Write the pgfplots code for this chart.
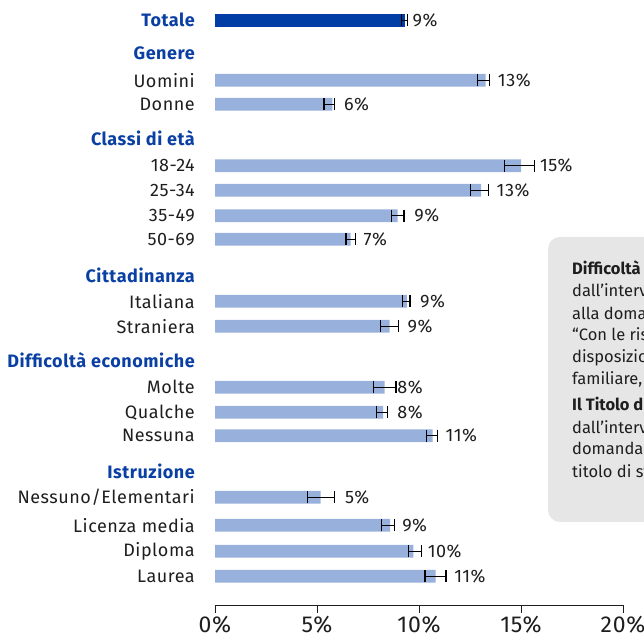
\documentclass[border=0pt]{standalone}
\usepackage{pgfplots}
\pgfplotsset{compat=1.18}
\usepackage{pgfplotstable}
\usepackage{fontspec}
\setmainfont{Fira Sans}
\newfontfamily\lab[LetterSpace=3]{Fira Sans}

\definecolor{hdr}{HTML}{0A3FA3}
\definecolor{dark}{HTML}{003DA5}
\definecolor{light}{HTML}{98B0DC}
\definecolor{boxgrey}{HTML}{E6E6E6}
\definecolor{txt}{HTML}{1E1E1E}

% y = row position, v = value, ep/em = error plus/minus, lx = label x
\pgfplotstableread{
y     v     ep   em   lx    lab
613.7 9.31  0.12 0.16 9.68  9
}\totale

\pgfplotstableread{
y     v     ep   em   lx    lab
553.7 13.26 0.18 0.39 13.86 13
529.7 5.75  0.10 0.41 6.32  6
468.3 15.00 0.65 0.82 15.93 15
443.7 13.04 0.36 0.51 13.80 13
418.3 8.95  0.31 0.31 9.76  9
394.8 6.65  0.25 0.23 7.27  7
332.7 9.41  0.15 0.23 10.05 9
307.7 8.56  0.43 0.46 9.43  9
246.7 8.31  0.56 0.55 8.93  8
221.7 8.24  0.20 0.32 8.93  8
198.3 10.67 0.23 0.30 11.30 11
136.7 5.18  0.68 0.66 6.37  5
108.7 8.58  0.22 0.41 9.17  9
82.7  9.72  0.40 0.25 10.42 10
57.7  10.82 0.50 0.53 11.72 11
}\gruppi

\newcommand{\hd}[1]{\bfseries\color{hdr}#1}

\begin{document}
\begin{tikzpicture}
\fill[boxgrey, rounded corners=12pt] (548pt,112pt) rectangle (720pt,397pt);
\begin{scope}[every node/.style={anchor=base west, inner sep=0pt, text=txt,
    font=\fontsize{16.5}{19}\selectfont}]
\node at (572pt,359pt) {\textbf{Difficoltà economiche}: riferite};
\node at (572pt,337pt) {dall'intervistato in risposta};
\node at (572pt,314pt) {alla domanda};
\node at (572pt,293pt) {“Con le risorse economiche a};
\node at (572pt,271pt) {disposizione del suo nucleo};
\node at (572pt,249pt) {familiare, come arriva a fine mese?”};
\node at (572pt,223pt) {\textbf{Il Titolo di studio}: riferito};
\node at (572pt,200pt) {dall'intervistato in risposta alla};
\node at (572pt,179pt) {domanda sul più alto};
\node at (572pt,157pt) {titolo di studio conseguito};
\end{scope}
\begin{axis}[
  at={(215pt,29pt)}, anchor=south west,
  scale only axis, width=408pt, height=600pt,
  xmin=0, xmax=20, ymin=29, ymax=629,
  clip=false,
  axis x line=bottom, axis y line=left,
  x axis line style={-, line width=1pt, draw=txt},
  y axis line style={draw=none},
  xtick={0,5,10,15,20},
  xticklabel={\pgfmathprintnumber{\tick}\%},
  /pgf/number format/assume math mode=true,
  xtick align=outside, ytick align=inside,
  major tick length=8pt,
  x tick style={line width=1pt, draw=txt},
  y tick style={draw=none},
  xticklabel style={font=\lab\fontsize{23}{26}\selectfont, text=txt},
  ytick={613.7,580.5,553.7,529.7,495.5,468.3,443.7,418.3,394.8,359,332.7,307.7,274,246.7,221.7,198.3,163,136.7,108.7,82.7,57.7},
  yticklabels={{\hd{Totale}},{\hd{Genere}},Uomini,Donne,{\hd{Classi di età}},18-24,25-34,35-49,50-69,{\hd{Cittadinanza}},Italiana,Straniera,{\hd{Difficoltà economiche}},Molte,Qualche,Nessuna,{\hd{Istruzione}},Nessuno/Elementari,Licenza media,Diploma,Laurea},
  yticklabel style={anchor=east, inner sep=0pt, xshift=-20pt, text=txt,
    font=\lab\fontsize{18}{21}\selectfont},
]
\addplot[xbar, bar shift=0pt, bar width=12.7pt, fill=dark, draw=none,
  error bars/.cd, x dir=both, x explicit, error mark=|,
  error bar style={line width=1.3pt, black},
  error mark options={mark size=6pt, line width=1.3pt, black}]
  table[x=v, y=y, x error plus=ep, x error minus=em] {\totale};
\addplot[xbar, bar shift=0pt, bar width=12.7pt, fill=light, draw=none,
  error bars/.cd, x dir=both, x explicit, error mark=|,
  error bar style={line width=1.3pt, black},
  error mark options={mark size=6pt, line width=1.3pt, black}]
  table[x=v, y=y, x error plus=ep, x error minus=em] {\gruppi};
% value labels
\addplot[draw=none, mark=none, nodes near coords={\pgfplotspointmeta\%},
  point meta=explicit symbolic,
  nodes near coords style={anchor=west, inner sep=0pt, text=txt,
    font=\lab\fontsize{18}{21}\selectfont}]
  table[x=lx, y=y, meta=lab] {\totale};
\addplot[draw=none, mark=none, nodes near coords={\pgfplotspointmeta\%},
  point meta=explicit symbolic,
  nodes near coords style={anchor=west, inner sep=0pt, text=txt,
    font=\lab\fontsize{18}{21}\selectfont}]
  table[x=lx, y=y, meta=lab] {\gruppi};
\end{axis}
\pgfresetboundingbox
\useasboundingbox (0,0) rectangle (644pt,634pt);
\end{tikzpicture}
\end{document}
